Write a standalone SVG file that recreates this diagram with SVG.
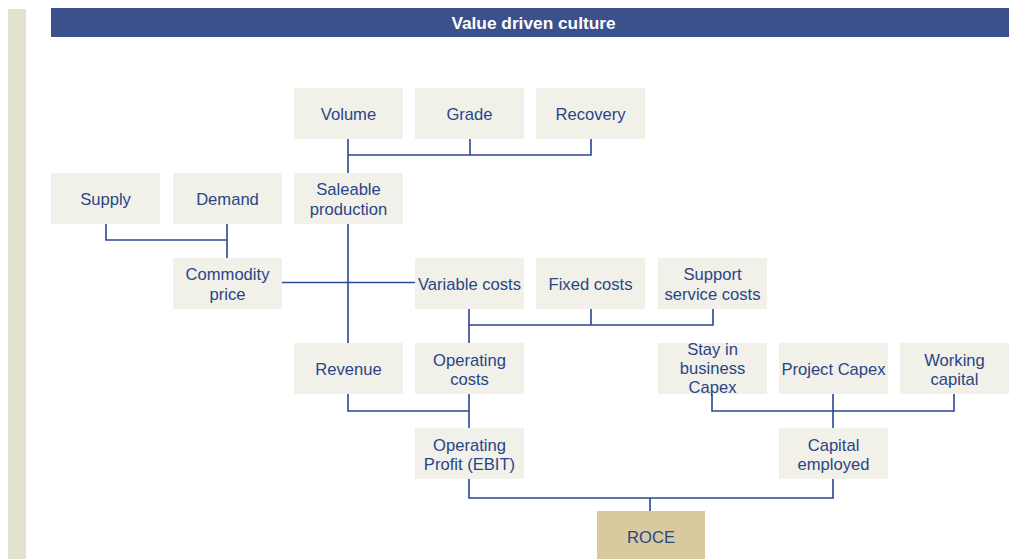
<svg xmlns="http://www.w3.org/2000/svg" width="1009" height="559" viewBox="0 0 1009 559">
  <style>
    .box { fill: #f1f0e9; }
    .goal { fill: #d8c99f; }
    .lbl { font-family: "Liberation Sans", Arial, sans-serif; font-size: 16.6px; fill: #2a4587; text-anchor: middle; }
    .title { font-family: "Liberation Sans", Arial, sans-serif; font-size: 17.3px; font-weight: bold; fill: #ffffff; text-anchor: middle; }
    .link { fill: none; stroke: #2a4791; stroke-width: 1.6; }
  </style>

  <!-- side band and header -->
  <rect x="8" y="9" width="18" height="550" fill="#e3e1cf"/>
  <g id="header">
    <rect x="51" y="8" width="958" height="29" fill="#3c508b"/>
    <text class="title" x="533.5" y="29">Value driven culture</text>
  </g>

  <!-- connectors -->
  <g id="connectors">
    <!-- Volume / Grade / Recovery to Saleable production -->
    <path class="link" d="M348 139 V173 M348 155 H591 V139 M470 139 V155"/>
    <!-- Supply / Demand to Commodity price -->
    <path class="link" d="M106 224 V240 H227 M227 224 V258"/>
    <!-- Saleable production to Revenue -->
    <path class="link" d="M348 224 V343"/>
    <!-- Commodity price to Variable costs -->
    <path class="link" d="M282 282.5 H415"/>
    <!-- cost drivers to Operating costs -->
    <path class="link" d="M469 309 V343 M469 325 H713 V309 M591 309 V325"/>
    <!-- Revenue / Operating costs to Operating Profit -->
    <path class="link" d="M348 394 V411 H469 M469 394 V428"/>
    <!-- capital items to Capital employed -->
    <path class="link" d="M712 393 V411 H954 V394 M833 394 V428"/>
    <!-- Operating Profit / Capital employed to ROCE -->
    <path class="link" d="M469 479 V498 H833 V479 M650 498 V511"/>
  </g>

  <g id="volume"><rect class="box" x="294" y="88" width="109" height="51"/><text class="lbl" x="348.5" y="120">Volume</text></g>
  <g id="grade"><rect class="box" x="415" y="88" width="109" height="51"/><text class="lbl" x="469.5" y="120">Grade</text></g>
  <g id="recovery"><rect class="box" x="536" y="88" width="109" height="51"/><text class="lbl" x="590.5" y="120">Recovery</text></g>

  <g id="supply"><rect class="box" x="51" y="173" width="109" height="51"/><text class="lbl" x="105.5" y="205">Supply</text></g>
  <g id="demand"><rect class="box" x="173" y="173" width="109" height="51"/><text class="lbl" x="227.5" y="205">Demand</text></g>
  <g id="saleable-production"><rect class="box" x="294" y="173" width="109" height="51"/><text class="lbl" x="348.5" y="195">Saleable</text><text class="lbl" x="348.5" y="215">production</text></g>

  <g id="commodity-price"><rect class="box" x="173" y="258" width="109" height="51"/><text class="lbl" x="227.5" y="280">Commodity</text><text class="lbl" x="227.5" y="300">price</text></g>
  <g id="variable-costs"><rect class="box" x="415" y="258" width="109" height="51"/><text class="lbl" x="469.5" y="290">Variable costs</text></g>
  <g id="fixed-costs"><rect class="box" x="536" y="258" width="109" height="51"/><text class="lbl" x="590.5" y="290">Fixed costs</text></g>
  <g id="support-service-costs"><rect class="box" x="658" y="258" width="109" height="51"/><text class="lbl" x="712.5" y="280">Support</text><text class="lbl" x="712.5" y="300">service costs</text></g>

  <g id="revenue"><rect class="box" x="294" y="343" width="109" height="51"/><text class="lbl" x="348.5" y="375">Revenue</text></g>
  <g id="operating-costs"><rect class="box" x="415" y="343" width="109" height="51"/><text class="lbl" x="469.5" y="366">Operating</text><text class="lbl" x="469.5" y="385">costs</text></g>
  <g id="stay-in-business-capex"><rect class="box" x="658" y="343" width="109" height="51"/><text class="lbl" x="712.5" y="355">Stay in</text><text class="lbl" x="712.5" y="374">business</text><text class="lbl" x="712.5" y="393">Capex</text></g>
  <g id="project-capex"><rect class="box" x="779" y="343" width="109" height="51"/><text class="lbl" x="833.5" y="375">Project Capex</text></g>
  <g id="working-capital"><rect class="box" x="900" y="343" width="109" height="51"/><text class="lbl" x="954.5" y="366">Working</text><text class="lbl" x="954.5" y="385">capital</text></g>

  <g id="operating-profit"><rect class="box" x="415" y="428" width="109" height="51"/><text class="lbl" x="469.5" y="451">Operating</text><text class="lbl" x="469.5" y="470">Profit (EBIT)</text></g>
  <g id="capital-employed"><rect class="box" x="779" y="428" width="109" height="51"/><text class="lbl" x="833.5" y="451">Capital</text><text class="lbl" x="833.5" y="470">employed</text></g>

  <g id="roce"><rect class="goal" x="597" y="511" width="108" height="48"/><text class="lbl" x="651" y="543">ROCE</text></g>
</svg>
